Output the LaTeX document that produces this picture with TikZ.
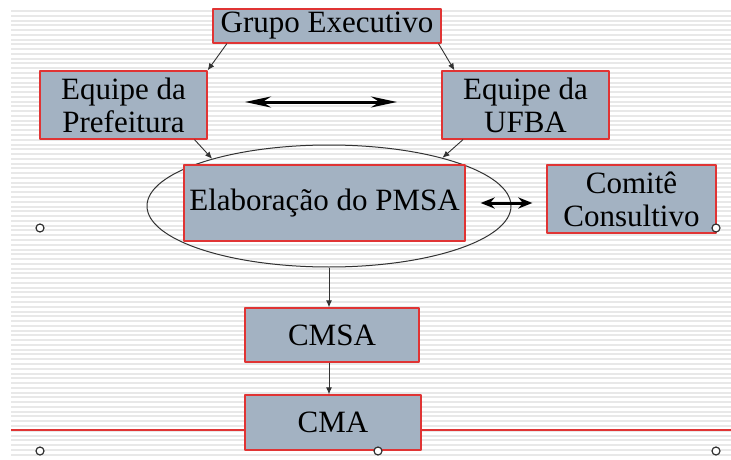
\documentclass[tikz,border=0pt]{standalone}
\usepackage{fontspec}
\setmainfont{Liberation Serif}
\newfontfamily\fonteserif{Liberation Serif}
\usetikzlibrary{arrows.meta,shapes.geometric}
\definecolor{boxfill}{RGB}{163,178,194}
\definecolor{boxred}{RGB}{224,52,52}
\definecolor{stripe}{RGB}{232,232,232}
\definecolor{linegray}{RGB}{50,50,50}
\tikzset{
  caixa/.style={rectangle, fill=boxfill, draw=boxred, line width=1.3pt, inner sep=0pt,
    align=center, font=\fonteserif\fontsize{31}{33}\selectfont},
  seta/.style={-{Latex[length=7pt,width=6pt]}, line width=0.9pt, draw=linegray},
  dupla/.style={line width=3pt, {Stealth[length=26pt,width=11pt]}-{Stealth[length=26pt,width=11pt]}},
  bolinha/.style={circle, draw=linegray, fill=white, line width=1.2pt, minimum size=8pt, inner sep=0pt}
}
\begin{document}
\begin{tikzpicture}[x=1pt,y=-1pt, line join=round]
  \useasboundingbox (0,0) rectangle (731,460);
  \fill[white] (0,0) rectangle (731,460);
  % fundo listrado
  \foreach \i in {0,...,93}{
    \fill[stripe] (11,{10+4.77*\i}) rectangle (731,{12+4.77*\i});}
  % caixas
  \node[ellipse, draw=linegray, line width=1pt, minimum width=364pt, minimum height=122pt] (ell) at (329,206) {};
  \node[caixa, minimum width=228pt, minimum height=34pt] (grp) at (327,26) {Grupo Executivo};
  \node[caixa, minimum width=167pt, minimum height=68pt] (pref) at (123.5,105) {Equipe da\\Prefeitura};
  \node[caixa, minimum width=167pt, minimum height=68pt] (ufba) at (525.5,105) {Equipe da\\UFBA};
  \node[caixa, minimum width=281pt, minimum height=76pt] (elab) at (324.5,203) {Elaboração do PMSA};
  \node[caixa, minimum width=169pt, minimum height=68pt] (com) at (631.5,199) {Comitê\\Consultivo};
  \node[caixa, minimum width=174pt, minimum height=54pt] (cmsa) at (332,335) {CMSA};
  \node[caixa, minimum width=176pt, minimum height=55pt] (cma) at (333,422.5) {CMA};
  % linha vermelha
  \coordinate (le) at (11,430);
  \coordinate (ld) at (731,430);
  \draw[boxred, line width=1.5pt] (le) -- (le -| cma.west);
  \draw[boxred, line width=1.5pt] (ld -| cma.east) -- (ld);
  % setas
  \draw[seta] (grp.190) -- (pref.north east);
  \draw[seta] (grp.-9.6) -- (ufba.154);
  \draw[seta] (pref.-26) -- (ell.158);
  \draw[seta] (ufba.209) -- (ell.23);
  \draw[seta] (ell.south) -- (ell.south |- cmsa.north);
  \draw[seta] (ell.south |- cmsa.south) -- (ell.south |- cma.north);
  \coordinate (d1) at (245,102);
  \coordinate (d2) at (397,102);
  \draw[dupla] (d1) -- (d2);
  \draw[line width=3pt, {Stealth[length=14pt,width=11pt]}-{Stealth[length=14pt,width=11pt]}, shorten <=15pt, shorten >=14pt] (elab.east) -- (elab.east -| com.west);
  % marcadores
  \foreach \p in {(40,228),(40,451),(378,451),(716,451),(716,228)}
    \node[bolinha] at \p {};
\end{tikzpicture}
\end{document}
